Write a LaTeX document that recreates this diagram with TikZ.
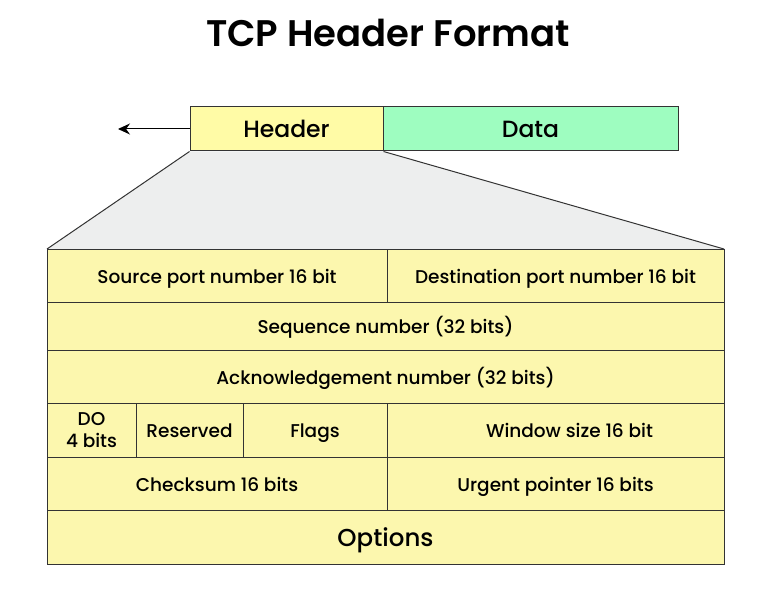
\documentclass[tikz,border=0pt]{standalone}
\usepackage{fontspec}
\setmainfont{Poppins}[UprightFont=*-Medium, BoldFont=*-SemiBold]
\usetikzlibrary{arrows.meta}
\definecolor{cellyellow}{HTML}{FCF7AE}
\definecolor{headyellow}{HTML}{FFFBA6}
\definecolor{datagreen}{HTML}{9EFDC0}
\definecolor{fangray}{HTML}{EDEEEE}
\definecolor{edgegray}{HTML}{333333}
\tikzset{
  cell/.style={draw=edgegray, fill=cellyellow, line width=1pt, inner sep=0pt,
    align=center, text height=18pt, text depth=3pt,
    font=\fontsize{18.5}{21}\selectfont},
  bigcell/.style={cell, text height=21pt, text depth=3.5pt,
    font=\fontsize{23.5}{26}\selectfont},
}

\begin{document}
\begin{tikzpicture}[x=1pt, y=-1pt]
  \useasboundingbox (0,0) rectangle (774,591);
  % Title
  \node[font=\bfseries\fontsize{37}{42}\selectfont] (title) at (388,33) {TCP Header Format};

  % Segment
  \node[bigcell, fill=headyellow, minimum width=193, minimum height=44] (hdr) at (286.5,129) {Header};
  \node[bigcell, fill=datagreen, minimum width=295, minimum height=44] (data) at (530.5,129) {Data};
  \coordinate (arrowend) at (118,129);
  \draw[-{Stealth[length=12pt, width=11pt]}, line width=1pt] (hdr.west) -- (arrowend);

  % Fan-out
  \coordinate (fanl) at (47,249);
  \coordinate (fanr) at (724,249);
  \fill[fangray] (hdr.south west) -- (fanl) -- (fanr) -- (hdr.south east) -- cycle;
  \draw[edgegray, line width=1pt] (hdr.south west) -- (fanl);
  \draw[edgegray, line width=1pt] (hdr.south east) -- (fanr);

  % Header fields
  \node[cell, minimum width=340, minimum height=53] (srcport) at (217,275.5) {Source port number 16 bit};
  \node[cell, minimum width=337, minimum height=53] (dstport) at (555.5,275.5) {Destination port number 16 bit};
  \node[cell, minimum width=677, minimum height=48] (seqnum) at (385.5,326) {Sequence number (32 bits)};
  \node[cell, minimum width=677, minimum height=53] (acknum) at (385.5,376.5) {Acknowledgement number (32 bits)};
  \node[cell, minimum width=89, minimum height=54, text height=, text depth=,
    font=\fontsize{18.5}{22}\selectfont] (doff) at (91.5,430) {DO\\4 bits};
  \node[cell, minimum width=107, minimum height=54] (resv) at (189.5,430) {Reserved};
  \node[cell, minimum width=144, minimum height=54] (flags) at (315,430) {Flags};
  \node[cell, minimum width=337, minimum height=54] (window) at (555.5,430) {\hspace*{28pt}Window size 16 bit};
  \node[cell, minimum width=340, minimum height=53] (chksum) at (217,483.5) {Checksum 16 bits};
  \node[cell, minimum width=337, minimum height=53] (urgptr) at (555.5,483.5) {Urgent pointer 16 bits};
  \node[bigcell, minimum width=677, minimum height=54, text height=21pt, text depth=3pt,
    font=\fontsize{24.5}{28}\selectfont] (options) at (385.5,537) {Options};
\end{tikzpicture}
\end{document}
